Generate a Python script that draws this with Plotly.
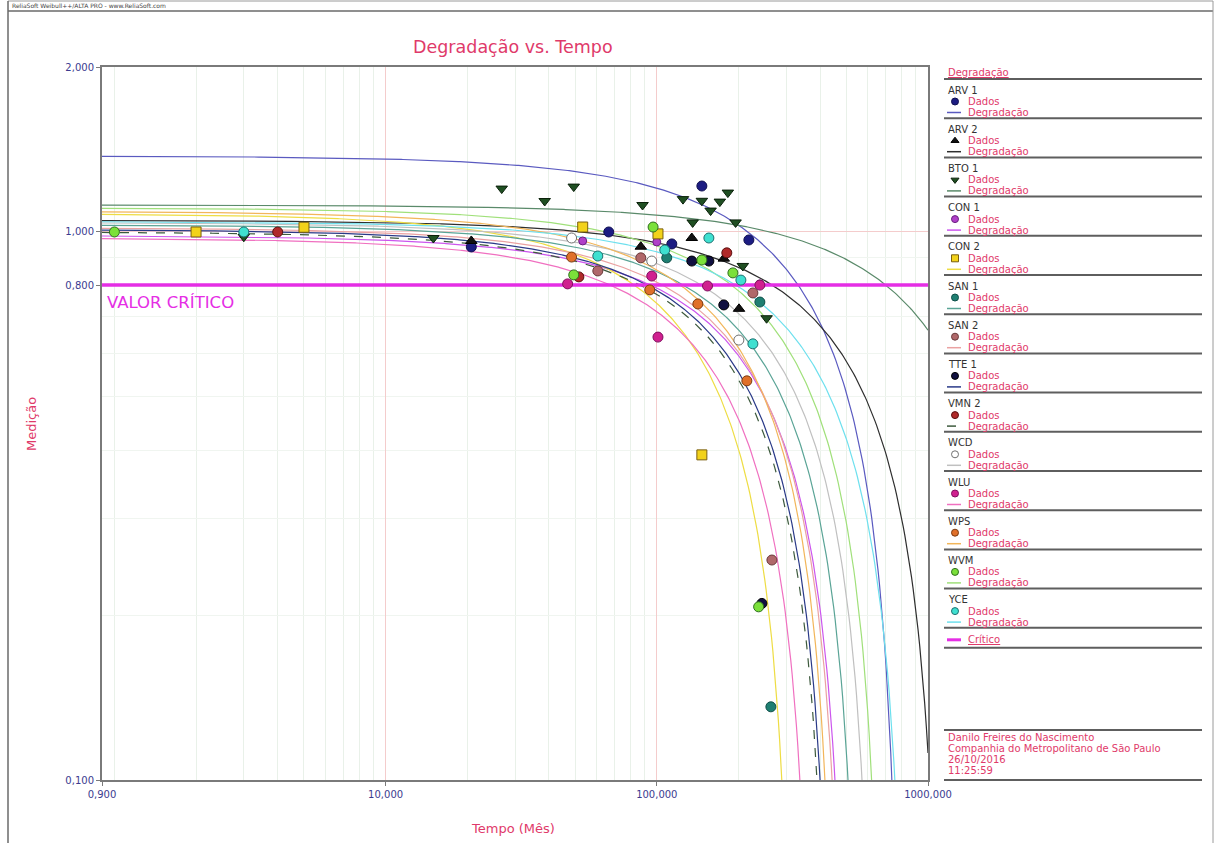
import numpy as np
import plotly.graph_objects as go

W, H = 1216, 843

# ---------------- measured data (time in months, measurement) ----------------
series = ["ARV 1", "ARV 2", "BTO 1", "CON 1", "CON 2", "SAN 1", "SAN 2",
          "TTE 1", "VMN 2", "WCD", "WLU", "WPS", "WVM", "YCE"]

arv1_t = [20.7, 66.5, 113.6, 146.6, 218.5]
arv1_y = [0.939, 1.0, 0.951, 1.213, 0.967]

arv2_t = [20.7, 87.3, 134.6, 176.6, 201.0]
arv2_y = [0.963, 0.94, 0.975, 0.894, 0.724]

bto1_t = [3.0, 15.0, 26.8, 38.6, 49.4, 88.6, 124.9, 135.6, 146.6, 157.9, 170.8, 182.8, 195.2, 207.6, 254.0]
bto1_y = [0.98, 0.975, 1.20, 1.139, 1.21, 1.12, 1.148, 1.041, 1.14, 1.094, 1.136, 1.18, 1.041, 0.867, 0.696]

con1_t = [53.3, 100.0, 239.9]
con1_y = [0.963, 0.959, 0.804]

con2_t = [2.0, 5.0, 53.3, 101.0, 146.6]
con2_y = [1.0, 1.02, 1.021, 0.992, 0.392]

san1_t = [108.8, 239.9, 263.4]
san1_y = [0.897, 0.745, 0.136]

san2_t = [60.6, 87.3, 226.1, 265.7]
san2_y = [0.849, 0.897, 0.774, 0.252]

tte1_t = [134.6, 155.6, 176.6, 244.1]
tte1_y = [0.885, 0.885, 0.736, 0.210]

vmn2_t = [4.0, 51.6, 181.2]
vmn2_y = [1.0, 0.828, 0.916]

wcd_t = [48.5, 95.8, 200.7]
wcd_y = [0.975, 0.885, 0.635]

wlu_t = [46.9, 95.8, 101.0, 153.8, 239.9]
wlu_y = [0.804, 0.831, 0.643, 0.797, 0.80]

wps_t = [48.5, 94.2, 141.7, 214.8]
wps_y = [0.900, 0.784, 0.739, 0.535]

wvm_t = [1.0, 49.4, 96.9, 146.6, 190.8, 237.4]
wvm_y = [1.0, 0.835, 1.021, 0.889, 0.842, 0.207]

yce_t = [3.0, 60.6, 107.0, 155.6, 204.2, 226.1]
yce_y = [1.0, 0.904, 0.927, 0.975, 0.817, 0.625]

# linear degradation fits: y = intercept + slope * t
fit_intercept = [1.376, 1.05, 1.12, 0.985, 1.08, 1.03, 1.017,
                 1.01, 1.0, 1.04, 0.975, 1.09, 1.106, 1.045]
fit_slope = [-0.001734, -0.000938, -0.000458, -0.00195, -0.00339, -0.001834, -0.00207,
             -0.002275, -0.002308, -0.001646, -0.002596, -0.002374, -0.001623, -0.001252]

critical_value = 0.8

x_ticks = [0.9, 10, 100, 1000]
x_ticktext = ["0,900", "10,000", "100,000", "1000,000"]
y_ticks = [0.1, 0.8, 1.0, 2.0]
y_ticktext = ["0,100", "0,800", "1,000", "2,000"]

footer_lines = ["Danilo Freires do Nascimento",
                "Companhia do Metropolitano de São Paulo",
                "26/10/2016",
                "11:25:59"]

points = {
    "ARV 1": (arv1_t, arv1_y), "ARV 2": (arv2_t, arv2_y), "BTO 1": (bto1_t, bto1_y),
    "CON 1": (con1_t, con1_y), "CON 2": (con2_t, con2_y), "SAN 1": (san1_t, san1_y),
    "SAN 2": (san2_t, san2_y), "TTE 1": (tte1_t, tte1_y), "VMN 2": (vmn2_t, vmn2_y),
    "WCD": (wcd_t, wcd_y), "WLU": (wlu_t, wlu_y), "WPS": (wps_t, wps_y),
    "WVM": (wvm_t, wvm_y), "YCE": (yce_t, yce_y),
}

# ---------------- styles ----------------
marker_symbol = {"ARV 1": "circle", "ARV 2": "triangle-up", "BTO 1": "triangle-down",
                 "CON 1": "circle", "CON 2": "square", "SAN 1": "circle", "SAN 2": "circle",
                 "TTE 1": "circle", "VMN 2": "circle", "WCD": "circle", "WLU": "circle",
                 "WPS": "circle", "WVM": "circle", "YCE": "circle"}
marker_fill = {"ARV 1": "#1c1c82", "ARV 2": "#111111", "BTO 1": "#1f4f22",
               "CON 1": "#b040c8", "CON 2": "#f2d21a", "SAN 1": "#1f7f72", "SAN 2": "#b0686a",
               "TTE 1": "#101040", "VMN 2": "#b02a2a", "WCD": "#ffffff", "WLU": "#d0208f",
               "WPS": "#e0702a", "WVM": "#7be03a", "YCE": "#3fe0d0"}
marker_line = {"ARV 1": "#101050", "ARV 2": "#000000", "BTO 1": "#0a200a",
               "CON 1": "#6a2080", "CON 2": "#7a6010", "SAN 1": "#0f4f48", "SAN 2": "#6a3a3a",
               "TTE 1": "#000000", "VMN 2": "#5a1010", "WCD": "#707070", "WLU": "#801060",
               "WPS": "#7a3a10", "WVM": "#2f6f1f", "YCE": "#1f6f70"}
marker_size = {"CON 1": 8}
curve_color = {"ARV 1": "#5a5ac0", "ARV 2": "#2e2e2e", "BTO 1": "#5a8a6a",
               "CON 1": "#cc55ee", "CON 2": "#eedd44", "SAN 1": "#5aa496", "SAN 2": "#eaa2a2",
               "TTE 1": "#2a3a88", "VMN 2": "#3d5a3d", "WCD": "#c0c0c0", "WLU": "#f070c0",
               "WPS": "#f2b65a", "WVM": "#a0e07a", "YCE": "#6ee0ee"}
curve_dash = {"VMN 2": "dash"}

CRIMSON = "#df3a6a"
TICKBLUE = "#3b3b8f"
MAGENTA = "#e52ee5"
FONT = "DejaVu Sans"

fig = go.Figure()

# ---------------- main plot ----------------
x0, x1 = 102, 928
y0, y1 = 67, 780

for i, name in enumerate(series):
    b, a = fit_intercept[i], fit_slope[i]
    t_stop = min(1000.0, (b - 0.095) / -a)
    tt = np.geomspace(0.9, t_stop, 500)
    fig.add_trace(go.Scatter(
        x=tt, y=b + a * tt, mode="lines", hoverinfo="skip", showlegend=False,
        line=dict(color=curve_color[name], width=1.2, dash=curve_dash.get(name, "solid")),
        xaxis="x", yaxis="y"))

fig.add_trace(go.Scatter(
    x=[0.9, 1000], y=[critical_value, critical_value], mode="lines",
    line=dict(color=MAGENTA, width=3.5), showlegend=False, hoverinfo="skip",
    xaxis="x", yaxis="y"))

for name in series:
    t, y = points[name]
    fig.add_trace(go.Scatter(
        x=t, y=y, mode="markers", showlegend=False, name=name,
        marker=dict(symbol=marker_symbol[name], size=marker_size.get(name, 10),
                    color=marker_fill[name],
                    line=dict(color=marker_line[name], width=1)),
        xaxis="x", yaxis="y"))

# ---------------- legend panel (pixel coordinate overlay) ----------------
shapes = []
annotations = []


def px_text(x, y, text, size=10, color=CRIMSON, xanchor="left", **kw):
    annotations.append(dict(x=x, y=y, xref="x2", yref="y2", text=text, showarrow=False,
                            xanchor=xanchor, yanchor="middle",
                            font=dict(family=FONT, size=size, color=color), **kw))


def px_line(xa, ya, xb, yb, color, width, dash="solid"):
    shapes.append(dict(type="line", x0=xa, y0=ya, x1=xb, y1=yb, xref="x2", yref="y2",
                       line=dict(color=color, width=width, dash=dash)))


LX0, LX1 = 944, 1202
SEP_COLOR = "#5e5e5e"
px_text(946, 72, "<u>Degradação</u>", size=10)
px_line(LX0, 79, LX1, 79, SEP_COLOR, 2)
step = 39.2
leg_x, leg_y = [], []
for k, name in enumerate(series):
    top = 79 + step * k
    px_text(946, top + 11, name, size=10, color="#333333")
    leg_x.append(955)
    leg_y.append(top + 22.5)
    px_text(966, top + 22.5, "Dados", size=10)
    px_line(947, top + 33.5, 961, top + 33.5, curve_color[name], 1.5, curve_dash.get(name, "solid"))
    px_text(966, top + 33.5, "Degradação", size=10)
    px_line(LX0, top + step, LX1, top + step, SEP_COLOR, 2)

crit_top = 79 + step * len(series)
px_line(947, crit_top + 12, 961, crit_top + 12, MAGENTA, 3)
px_text(966, crit_top + 12, "<u>Crítico</u>", size=10)
px_line(LX0, crit_top + 20, LX1, crit_top + 20, SEP_COLOR, 2)

for k, name in enumerate(series):
    fig.add_trace(go.Scatter(
        x=[leg_x[k]], y=[leg_y[k]], mode="markers", showlegend=False, hoverinfo="skip",
        marker=dict(symbol=marker_symbol[name], size=7, color=marker_fill[name],
                    line=dict(color=marker_line[name], width=1)),
        xaxis="x2", yaxis="y2"))

# footer block
px_line(LX0, 730, LX1, 730, SEP_COLOR, 2)
for j, line in enumerate(footer_lines):
    px_text(946, 737 + 11.3 * j, line, size=10)
px_line(LX0, 780, LX1, 780, SEP_COLOR, 2)

# titles
px_text(513, 47, "Degradação vs. Tempo", size=17.5, xanchor="center")
px_text(513, 828, "Tempo (Mês)", size=13, xanchor="center")
px_text(31, 424, "Medição", size=13, xanchor="center", textangle=-90)
px_text(105, 302, "VALOR CRÍTICO", size=16.5, color=MAGENTA)

# window frame and header
px_text(10, 5, "ReliaSoft Weibull++/ALTA PRO - www.ReliaSoft.com", size=6, color="#444444")
px_line(8, 1, 1213, 1, "#9a9a9a", 1)
px_line(8, 11, 1213, 11, "#6a6a6a", 1.5)
px_line(8, 1, 8, 843, "#6a6a6a", 1.5)
px_line(1213, 1, 1213, 843, "#9a9a9a", 1)

minor_x = [v * m for m in (1, 10, 100) for v in range(1, 10) if v * m not in (10, 100)] + [1.0]
minor_x = sorted(set(v for v in minor_x if v > 0.9))
minor_y = [0.2, 0.3, 0.4, 0.5, 0.6, 0.7, 0.9]

fig.update_layout(
    width=W, height=H, autosize=False,
    margin=dict(l=0, r=0, t=0, b=0, pad=0, autoexpand=False),
    paper_bgcolor="white", plot_bgcolor="rgba(0,0,0,0)",
    shapes=shapes, annotations=annotations, showlegend=False,
    xaxis=dict(type="log", domain=[x0 / W, x1 / W], range=[np.log10(0.9), 3],
               tickvals=x_ticks, ticktext=x_ticktext, ticks="outside", ticklen=4,
               tickcolor="#7a7a7a", showline=True, linecolor="#7a7a7a", linewidth=2,
               mirror=True, showgrid=True, gridcolor="#f4cccc", gridwidth=1,
               zeroline=False, tickfont=dict(family=FONT, size=10, color=TICKBLUE),
               minor=dict(tickvals=minor_x, showgrid=True, gridcolor="#e9f1e9", ticks=""),
               automargin=False, anchor="y"),
    yaxis=dict(type="log", domain=[1 - y1 / H, 1 - y0 / H], range=[-1, np.log10(2)],
               tickvals=y_ticks, ticktext=y_ticktext, ticks="outside", ticklen=4,
               tickcolor="#7a7a7a", showline=True, linecolor="#7a7a7a", linewidth=2,
               mirror=True, showgrid=True, gridcolor="#f4cccc", gridwidth=1,
               zeroline=False, tickfont=dict(family=FONT, size=10, color=TICKBLUE),
               minor=dict(tickvals=minor_y, showgrid=True, gridcolor="#f0f5f0", ticks=""),
               automargin=False, anchor="x"),
    xaxis2=dict(domain=[0, 1], range=[0, W], visible=False, anchor="y2", fixedrange=True,
                automargin=False),
    yaxis2=dict(domain=[0, 1], range=[H, 0], visible=False, anchor="x2", fixedrange=True,
                automargin=False),
)

fig.write_html("out.html", config={"displayModeBar": False})
